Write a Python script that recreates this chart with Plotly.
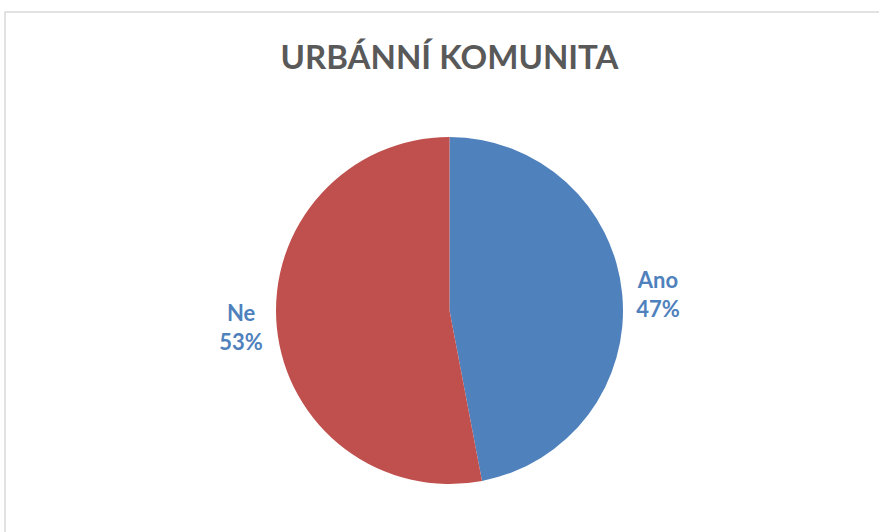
import plotly.graph_objects as go

labels = ["Ano", "Ne"]
values = [47, 53]
colors = ["#4F81BD", "#C0504D"]
title_text = "URBÁNNÍ KOMUNITA"

W, H = 879, 532
cx, cy, r = 449.5, 310.5, 173.5

fig = go.Figure(go.Pie(
    labels=labels,
    values=values,
    sort=False,
    direction="clockwise",
    rotation=0,
    marker=dict(colors=colors, line=dict(color="white", width=0)),
    textposition="outside",
    texttemplate="<b>%{label}<br>%{percent:.0%}</b>",
    outsidetextfont=dict(family="Lato", size=22, color="#4F81BD"),
    hoverinfo="skip",
    showlegend=False,
    domain=dict(x=[(cx - 185) / W, (cx + 185) / W],
                y=[(H - cy - r) / H, (H - cy + r) / H]),
))

fig.update_layout(
    width=W, height=H,
    margin=dict(l=0, r=0, t=0, b=0),
    paper_bgcolor="white",
    title=dict(text="<b>" + title_text + "</b>", x=cx / W, xanchor="center",
               y=1 - 57 / H, yanchor="middle",
               font=dict(family="Lato", size=33, color="#595959")),
    shapes=[dict(type="rect", xref="paper", yref="paper",
                 x0=5 / W, x1=1.05, y0=-0.05, y1=1 - 12 / H,
                 line=dict(color="#D9D9D9", width=1.5), fillcolor="rgba(0,0,0,0)")],
)

fig.write_html("out.html",
               config={"displayModeBar": False},
               post_script="document.body.style.margin='0';document.body.style.padding='0';")
